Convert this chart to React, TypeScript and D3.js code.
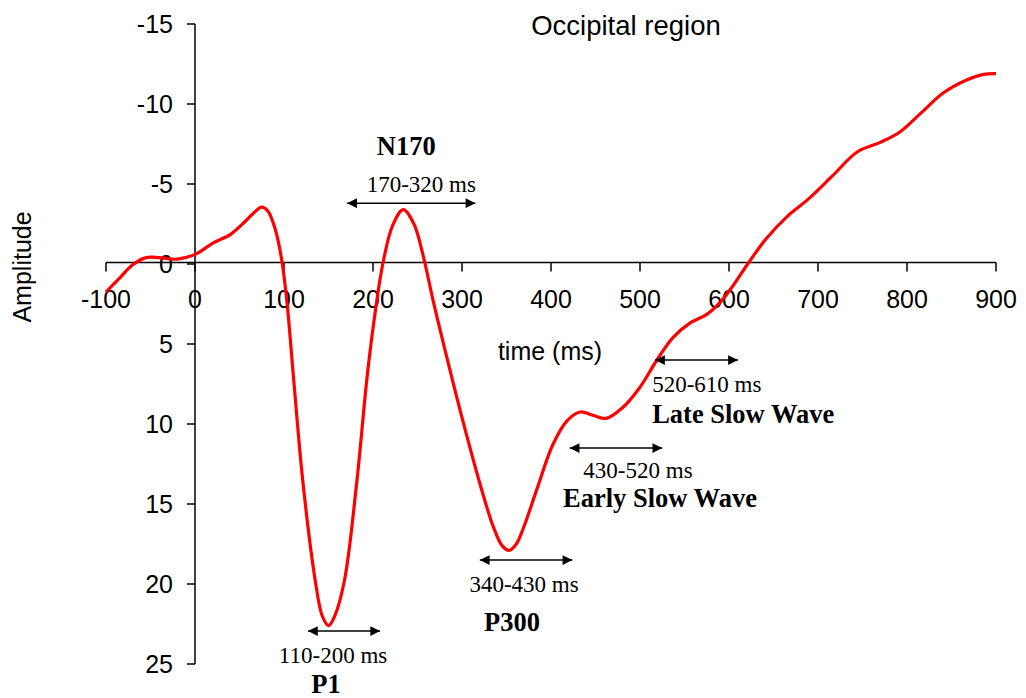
import React from "react";
import * as d3 from "d3";

// ---- data ----
const times: number[] = [
  -100, -85, -70, -55, -40, -20, 0, 20, 40, 58, 68, 75, 82, 90, 97, 103, 111, 121, 135, 143, 150, 157, 168,
  182, 193, 201, 211, 222, 234, 246, 256, 268, 281, 300, 320, 335, 345, 353, 361, 369, 384, 402, 418, 433, 447, 462,
  480, 500, 519, 537, 556, 575, 590, 604, 621, 642, 665, 690, 717, 744, 770, 792, 815, 841, 867, 886, 900,
];
const amplitude: number[] = [
  1.75, 0.9, 0.05, -0.4, -0.4, -0.3, -0.6, -1.3, -1.85, -2.75, -3.3, -3.55, -3.3, -2.2, -0.4, 2.2, 7.3, 13.5,
  19.75, 22.0, 22.6, 22.0, 19.75, 13.5, 7.25, 3.6, 0, -2.4, -3.4, -2.5, -0.6, 2.4, 5.4, 9.6, 13.7, 16.4, 17.6,
  17.9, 17.5, 16.5, 14.1, 11.3, 9.8, 9.25, 9.45, 9.65, 9.0, 7.7, 6.0, 4.6, 3.7, 3.15, 2.4, 1.4, 0, -1.6, -2.95, -4.1,
  -5.55, -7.0, -7.6, -8.25, -9.4, -10.7, -11.5, -11.85, -11.9,
];
const xTicks: number[] = [-100, 0, 100, 200, 300, 400, 500, 600, 700, 800, 900];
const yTicks: number[] = [-15, -10, -5, 0, 5, 10, 15, 20, 25];

const componentNames: string[] = ["N170", "P1", "P300", "Early Slow Wave", "Late Slow Wave"];
const componentRanges: string[] = ["170-320 ms", "110-200 ms", "340-430 ms", "430-520 ms", "520-610 ms"];
const arrowStart: number[] = [171, 127, 320, 421, 517];
const arrowEnd: number[] = [315, 208, 424, 525, 610];
const arrowLevel: number[] = [-3.8, 22.94, 18.5, 11.5, 6.0];

const title = "Occipital region";
const xTitle = "time (ms)";
const yTitle = "Amplitude";

// ---- layout (pixels) ----
const W = 1026;
const H = 698;
// [rangeDx, rangeDy, nameDx, nameDy, anchor]
const labelLayout: [number, number, number, number, string][] = [
  [10, -11, -5, -48, "middle"],
  [-11, 32, -18, 62, "middle"],
  [-2, 32, -14, 71, "middle"],
  [22, 30, 44, 59, "middle"],
  [-3, 32, -3, 63, "start"],
];

export default function App() {
  const x = d3.scaleLinear().domain([-100, 900]).range([106, 996]);
  const y = d3.scaleLinear().domain([-15, 25]).range([24, 664]);

  const pts: [number, number][] = times.map((t, i) => [t, amplitude[i]]);
  const line = d3
    .line<[number, number]>()
    .x((d) => x(d[0]))
    .y((d) => y(d[1]))
    .curve(d3.curveCatmullRom.alpha(0.5));

  const sans = "'Liberation Sans', Arial, sans-serif";
  const serif = "'Liberation Serif', 'Times New Roman', serif";
  const y0 = y(0) - 1.5;

  return (
    <svg
      width={W}
      height={H}
      style={{ position: "absolute", left: 0, top: 0, background: "#fff" }}
      xmlns="http://www.w3.org/2000/svg"
    >
      <defs>
        <marker id="ah" viewBox="0 0 10 10" refX="10" refY="5" markerWidth="7" markerHeight="6.5" orient="auto-start-reverse" markerUnits="strokeWidth">
          <path d="M0,0 L10,5 L0,10 z" fill="#000" />
        </marker>
      </defs>
      {/* y axis */}
      <line x1={x(0)} x2={x(0)} y1={y(-15)} y2={y(25)} stroke="#000" strokeWidth={1.5} />
      {yTicks.map((t) => (
        <g key={"yt" + t}>
          <line x1={x(0) - 8} x2={x(0)} y1={y(t)} y2={y(t)} stroke="#000" strokeWidth={1.5} />
          <text x={x(0) - 22} y={y(t)} dy="0.35em" textAnchor="end" fontFamily={sans} fontSize={25} fill="#000">
            {t}
          </text>
        </g>
      ))}
      {/* x axis */}
      <line x1={x(-100)} x2={x(900)} y1={y0} y2={y0} stroke="#000" strokeWidth={1.5} />
      {xTicks.map((t) => (
        <g key={"xt" + t}>
          <line x1={x(t)} x2={x(t)} y1={y0} y2={y0 + 9} stroke="#000" strokeWidth={1.5} />
          <text x={x(t)} y={y0 + 45} textAnchor="middle" fontFamily={sans} fontSize={25} fill="#000">
            {t}
          </text>
        </g>
      ))}
      {/* curve */}
      <path d={line(pts) || ""} fill="none" stroke="#ff0000" strokeWidth={3.2} strokeLinejoin="round" />
      {/* titles */}
      <text x={626} y={35} textAnchor="middle" fontFamily={sans} fontSize={27.5} fill="#000">
        {title}
      </text>
      <text x={550} y={360} textAnchor="middle" fontFamily={sans} fontSize={25} fill="#000">
        {xTitle}
      </text>
      <text
        transform={`translate(31,267) rotate(-90)`}
        textAnchor="middle"
        fontFamily={sans}
        fontSize={25}
        fill="#000"
      >
        {yTitle}
      </text>
      {/* annotations */}
      {componentNames.map((name, i) => {
        const xa = x(arrowStart[i]);
        const xb = x(arrowEnd[i]);
        const ya = y(arrowLevel[i]);
        const [rdx, rdy, ndx, ndy, anchor] = labelLayout[i];
        const base = anchor === "start" ? xa : (xa + xb) / 2;
        return (
          <g key={name}>
            <line
              x1={xa}
              x2={xb}
              y1={ya}
              y2={ya}
              stroke="#000"
              strokeWidth={1.5}
              markerStart="url(#ah)"
              markerEnd="url(#ah)"
            />
            <text x={base + rdx} y={ya + rdy} textAnchor={anchor} fontFamily={serif} fontSize={23} fill="#000">
              {componentRanges[i]}
            </text>
            <text
              x={base + ndx}
              y={ya + ndy}
              textAnchor={anchor}
              fontFamily={serif}
              fontSize={26.5}
              fontWeight="bold"
              fill="#000"
            >
              {name}
            </text>
          </g>
        );
      })}
    </svg>
  );
}
